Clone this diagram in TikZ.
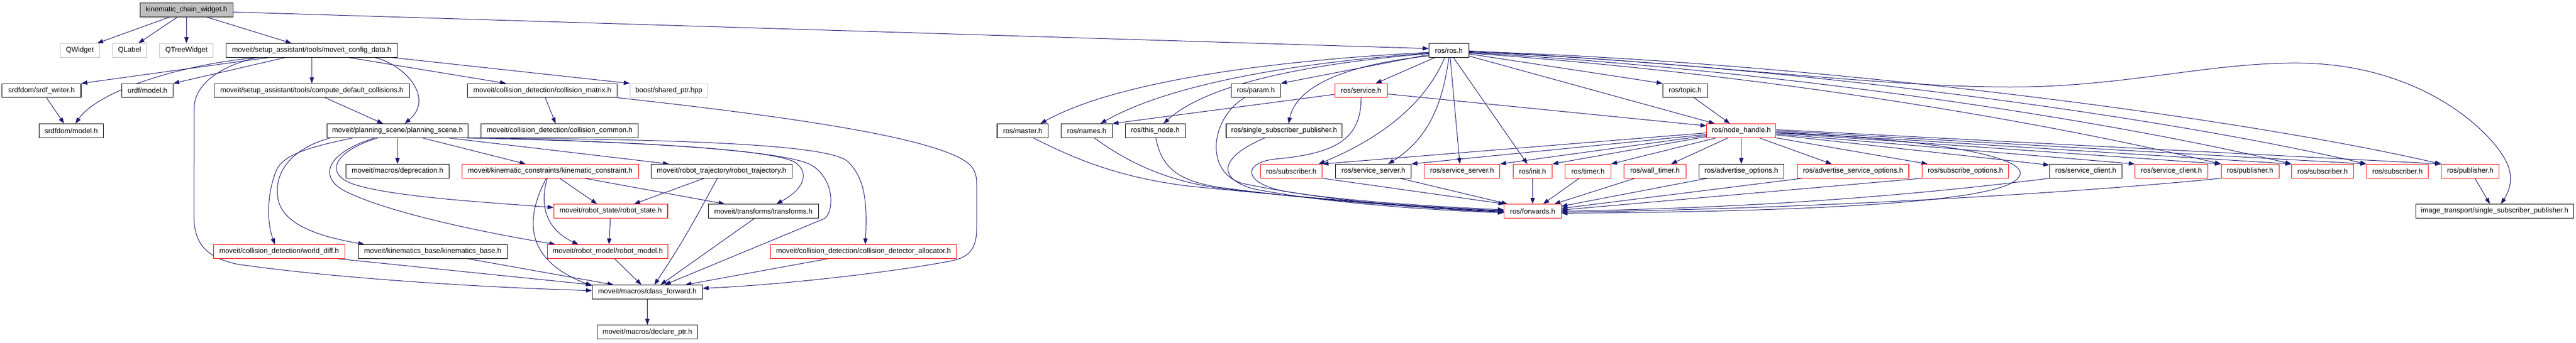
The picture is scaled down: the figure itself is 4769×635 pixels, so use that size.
\documentclass[tikz,border=0pt]{standalone}
\usepackage{fontspec}
\setmainfont{Liberation Sans}
\usetikzlibrary{arrows.meta,calc}
\pgfdeclarelayer{bg}
\pgfsetlayers{bg,main}
\definecolor{edgec}{HTML}{191970}
\definecolor{grey75}{HTML}{BFBFBF}
\newcommand{\nfont}{\fontsize{13.2}{15}\selectfont}
\tikzset{
 nb/.style={draw=black, fill=white, line width=1.1pt, minimum height=25.5pt, inner sep=0pt, font=\nfont, text=black},
 rb/.style={nb, draw=red},
 gb/.style={nb, draw=grey75},
 conn/.style={draw=edgec, line width=1pt, -{Triangle[length=11pt,width=8pt]}}
}
\begin{document}
\begin{tikzpicture}[x=1pt,y=-1pt]
\useasboundingbox (0,0) rectangle (4769,635);
% ---- moveit part ----
\node[nb, fill=grey75, minimum width=172.3pt] (kcw) at (345.2,18.4) {kinematic\_chain\_widget.h};
\node[gb, minimum width=73.5pt] (qwidget) at (147.8,93.4) {QWidget};
\node[gb, minimum width=62.7pt] (qlabel) at (240.0,93.4) {QLabel};
\node[gb, minimum width=98.8pt] (qtree) at (345.2,93.4) {QTreeWidget};
\node[nb, minimum width=317.6pt] (cfg) at (577.1,93.4) {moveit/setup\_assistant/tools/moveit\_config\_data.h};
\node[nb, minimum width=146.2pt] (srdfw) at (76.9,167.9) {srdfdom/srdf\_writer.h};
\node[nb, minimum width=94.5pt] (urdf) at (273.1,167.9) {urdf/model.h};
\node[nb, minimum width=361.6pt] (cdc) at (577.3,167.9) {moveit/setup\_assistant/tools/compute\_default\_collisions.h};
\node[nb, minimum width=277.5pt] (cmat) at (1004.0,167.9) {moveit/collision\_detection/collision\_matrix.h};
\node[gb, minimum width=143.8pt] (boost) at (1238.3,167.9) {boost/shared\_ptr.hpp};
\node[nb, minimum width=119.1pt] (srdfm) at (131.9,242.4) {srdfdom/model.h};
\node[nb, minimum width=260.3pt] (pscene) at (735.9,242.4) {moveit/planning\_scene/planning\_scene.h};
\node[nb, minimum width=290.4pt] (ccommon) at (1036.1,242.4) {moveit/collision\_detection/collision\_common.h};
\node[nb, minimum width=190.6pt] (depr) at (735.9,317.3) {moveit/macros/deprecation.h};
\node[rb, minimum width=326.8pt] (kcon) at (1018.7,317.3) {moveit/kinematic\_constraints/kinematic\_constraint.h};
\node[nb, minimum width=260.3pt] (rtraj) at (1335.9,317.3) {moveit/robot\_trajectory/robot\_trajectory.h};
\node[rb, minimum width=210.8pt] (rstate) at (1130.6,391.4) {moveit/robot\_state/robot\_state.h};
\node[nb, minimum width=204.3pt] (transf) at (1413.2,391.4) {moveit/transforms/transforms.h};
\node[rb, minimum width=243.0pt] (wdiff) at (516.8,466.4) {moveit/collision\_detection/world\_diff.h};
\node[nb, minimum width=276.0pt] (kbase) at (801.1,466.4) {moveit/kinematics\_base/kinematics\_base.h};
\node[rb, minimum width=223.0pt] (rmodel) at (1125.2,466.4) {moveit/robot\_model/robot\_model.h};
\node[rb, minimum width=344.0pt] (cdalloc) at (1598.6,466.4) {moveit/collision\_detection/collision\_detector\_allocator.h};
\node[nb, minimum width=203.9pt] (cfwd) at (1198.4,541.3) {moveit/macros/class\_forward.h};
\node[nb, minimum width=186.6pt] (dptr) at (1198.5,615.6) {moveit/macros/declare\_ptr.h};
% ---- ros part ----
\node[nb, minimum width=73.9pt] (ros) at (2682.3,93.4) {ros/ros.h};
\node[nb, minimum width=91.1pt] (param) at (2325.1,167.9) {ros/param.h};
\node[rb, minimum width=97.2pt] (service) at (2519.8,167.9) {ros/service.h};
\node[nb, minimum width=82.6pt] (topic) at (3119.8,167.9) {ros/topic.h};
\node[nb, minimum width=94.9pt] (master) at (1893.4,242.4) {ros/master.h};
\node[nb, minimum width=94.5pt] (names) at (2011.9,242.4) {ros/names.h};
\node[nb, minimum width=111.0pt] (thisnode) at (2138.7,242.4) {ros/this\_node.h};
\node[nb, minimum width=214.6pt] (ssp) at (2377.3,242.4) {ros/single\_subscriber\_publisher.h};
\node[rb, minimum width=128.2pt] (nh) at (3223.7,242.4) {ros/node\_handle.h};
\node[rb, minimum width=114.7pt] (sub0) at (2390.5,317.3) {ros/subscriber.h};
\node[nb, minimum width=139.7pt] (ssb) at (2542.6,317.3) {ros/service\_server.h};
\node[rb, minimum width=140.1pt] (ssr) at (2706.6,317.3) {ros/service\_server.h};
\node[rb, minimum width=72.3pt] (init) at (2837.3,317.3) {ros/init.h};
\node[rb, minimum width=84.6pt] (timer) at (2939.8,317.3) {ros/timer.h};
\node[rb, minimum width=114.8pt] (wtimer) at (3063.9,317.3) {ros/wall\_timer.h};
\node[nb, minimum width=157.3pt] (advopt) at (3223.7,317.3) {ros/advertise\_options.h};
\node[rb, minimum width=206.7pt] (advsrv) at (3430.6,317.3) {ros/advertise\_service\_options.h};
\node[rb, minimum width=159.9pt] (subopt) at (3638.7,317.3) {ros/subscribe\_options.h};
\node[nb, minimum width=134.0pt] (scb) at (3861.4,317.3) {ros/service\_client.h};
\node[rb, minimum width=134.7pt] (scr) at (4019.9,317.3) {ros/service\_client.h};
\node[rb, minimum width=107.0pt] (pub1) at (4165.5,317.3) {ros/publisher.h};
\node[rb, minimum width=114.6pt] (sub1) at (4299.9,317.3) {ros/subscriber.h};
\node[rb, minimum width=114.7pt] (sub2) at (4438.5,317.3) {ros/subscriber.h};
\node[rb, minimum width=107.0pt] (pub2) at (4573.2,317.3) {ros/publisher.h};
\node[rb, minimum width=105.6pt] (fwd) at (2837.4,391.4) {ros/forwards.h};
\node[nb, minimum width=291.2pt] (itssp) at (4618.4,391.4) {image\_transport/single\_subscriber\_publisher.h};

\begin{pgfonlayer}{bg}
% kcw
\draw[conn] ($(kcw.south)+(-31.4,0)$) -- ($(qwidget.north)+(32.2,0)$);
\draw[conn] ($(kcw.south)+(-16.8,0)$) -- ($(qlabel.north)+(16.4,0)$);
\draw[conn] (kcw.south) -- (qtree.north);
\draw[conn] ($(kcw.south)+(37.5,0)$) -- ($(cfg.north)+(-37.5,0)$);
\draw[conn] ($(kcw.east)+(0,3.9)$) -- ($(ros.west)+(0,-3.4)$);
% cfg
\draw[conn] ($(cfg.south)+(-79.6,0)$) -- (srdfw.north east);
\draw[conn] ($(cfg.south)+(-100.6,0)$) .. controls (330,120) and (180,170) .. ($(srdfm.north)+(7.8,0)$);
\draw[conn] ($(cfg.south)+(-49,0)$) -- (urdf.north east);
\draw[conn] (cfg.south) -- (cdc.north);
\draw[conn] ($(cfg.south)+(116.7,0)$) .. controls (750,120) and (805,182) .. ($(pscene.north)+(13.4,0)$);
\draw[conn] ($(cfg.south)+(68.8,0)$) -- ($(cmat.north)+(-67.2,0)$);
\draw[conn] ($(cfg.south)+(149.2,0)$) -- (boost.north west);
\draw[conn] ($(cfg.south)+(-102.6,0)$) .. controls (400,125) and (360,160) .. (359.5,200) -- (359,400) .. controls (359,455) and (385,478) .. (440,490) .. controls (650,520) and (950,535) .. ($(cfwd.west)+(0,-2.6)$);
\draw[conn] ($(srdfw.south)+(9.2,0)$) -- ($(srdfm.north)+(-13.3,0)$);
\draw[conn] ($(cdc.south)+(24.6,0)$) -- ($(pscene.north)+(-26.8,0)$);
\draw[conn] ($(cmat.south)+(5.5,0)$) -- ($(ccommon.north)+(-7.5,0)$);
\draw[conn] (cmat.south east) .. controls (1450,215) and (1740,255) .. (1795,305) .. controls (1808,318) and (1808,330) .. (1808,345) -- (1808,425) .. controls (1808,465) and (1790,478) .. (1760,484) .. controls (1650,505) and (1450,528) .. ($(cfwd.east)+(0,-6.7)$);
% planning scene
\draw[conn] (pscene.south) -- (depr.north);
\draw[conn] ($(pscene.south)+(45.9,0)$) -- ($(kcon.north)+(-45.6,0)$);
\draw[conn] ($(pscene.south)+(93.7,0)$) -- ($(rtraj.north)+(-97.6,0)$);
\draw[conn] ($(pscene.south)+(-36.4,0)$) .. controls (620,280) and (600,320) .. (650,340) .. controls (720,365) and (900,375) .. ($(rstate.west)+(0,-6.6)$);
\draw[conn] ($(pscene.south)+(-42.1,0)$) .. controls (600,285) and (590,330) .. (640,355) .. controls (720,395) and (900,432) .. ($(rmodel.north west)+(15,0)$);
\draw[conn] ($(pscene.south)+(-82.3,0)$) .. controls (560,275) and (520,290) .. (510,320) .. controls (495,360) and (493,410) .. ($(wdiff.north)+(-7.8,0)$);
\draw[conn] ($(pscene.south)+(-123.9,0)$) .. controls (540,275) and (505,320) .. (515,370) .. controls (525,420) and (600,440) .. ($(kbase.north)+(-126.5,0)$);
\draw[conn] ($(pscene.south east)+(-4,0)$) .. controls (1150,262) and (1420,275) .. (1470,300) .. controls (1500,318) and (1490,350) .. ($(transf.north)+(24.1,0)$);
\draw[conn] ($(pscene.south east)+(-2,0)$) .. controls (1200,262) and (1450,280) .. (1500,305) .. controls (1545,330) and (1545,390) .. (1527,405) -- ($(cfwd.north)+(32.2,0)$);
\draw[conn] (pscene.south east) .. controls (1300,258) and (1540,270) .. (1570,300) .. controls (1600,330) and (1606,370) .. ($(cdalloc.north)+(3.2,0)$);
% kinematic constraint etc.
\draw[conn] ($(kcon.south)+(17.6,0)$) -- ($(rstate.north)+(-25.4,0)$);
\draw[conn] ($(kcon.south)+(-5.4,0)$) .. controls (995,390) and (1020,430) .. ($(rmodel.north)+(-54.5,0)$);
\draw[conn] ($(kcon.south)+(-7.3,0)$) .. controls (975,400) and (965,480) .. ($(cfwd.north west)+(0,2)$);
\draw[conn] ($(kcon.south)+(63.5,0)$) -- ($(transf.north)+(-71.6,0)$);
\draw[conn] ($(rtraj.south)+(-32.6,0)$) -- ($(rstate.north)+(43.4,0)$);
\draw[conn] ($(rtraj.south)+(-7.7,0)$) .. controls (1290,400) and (1270,440) .. ($(cfwd.north)+(13.1,0)$);
\draw[conn] ($(rstate.south)+(-0.6,0)$) -- ($(rmodel.north)+(2.2,0)$);
\draw[conn] ($(rmodel.south)+(12.5,0)$) -- ($(cfwd.north)+(-11,0)$);
\draw[conn] ($(transf.south)+(-16.1,0)$) -- ($(cfwd.north)+(24.6,0)$);
\draw[conn] ($(cdalloc.south)+(-65.6,0)$) -- ($(cfwd.north)+(70.5,0)$);
\draw[conn] ($(wdiff.south)+(108.1,0)$) -- (cfwd.north west);
\draw[conn] ($(kbase.south)+(64.9,0)$) -- ($(cfwd.north)+(-62.6,0)$);
\draw[conn] (cfwd.south) -- (dptr.north);
% ros.h
\draw[conn] ($(ros.west)+(0,3.8)$) .. controls (2300,115) and (2050,160) .. ($(master.north)+(32.9,0)$);
\draw[conn] ($(ros.west)+(0,5)$) .. controls (2350,120) and (2150,165) .. ($(names.north)+(25.4,0)$);
\draw[conn] ($(ros.west)+(0,6)$) .. controls (2400,120) and (2230,160) .. ($(thisnode.north)+(15.3,0)$);
\draw[conn] ($(ros.west)+(0,8)$) -- (param.north east);
\draw[conn] ($(ros.south west)+(0,-3)$) .. controls (2490,120) and (2400,160) .. ($(ssp.north)+(8.2,0)$);
\draw[conn] ($(ros.south)+(-25.7,0)$) -- ($(service.north)+(27.1,0)$);
\draw[conn] ($(ros.south)+(-7.8,0)$) .. controls (2640,190) and (2560,255) .. ($(sub0.north)+(50.8,0)$);
\draw[conn] (ros.south) .. controls (2670,200) and (2640,260) .. ($(ssb.north)+(27.3,0)$);
\draw[conn] ($(ros.south)+(2.4,0)$) -- ($(ssr.north)+(-4,0)$);
\draw[conn] ($(ros.south)+(8.5,0)$) -- ($(init.north)+(-9.7,0)$);
\draw[conn] ($(ros.south east)+(0,-2.8)$) -- ($(nh.north)+(-49.2,0)$);
\draw[conn] ($(ros.east)+(0,6.6)$) -- (topic.north west);
\draw[conn] ($(ros.east)+(0,5)$) .. controls (3300,140) and (3800,230) .. (pub1.north west);
\draw[conn] ($(ros.east)+(0,4)$) .. controls (3300,130) and (3900,222) .. (sub1.north west);
\draw[conn] ($(ros.east)+(0,3)$) .. controls (3300,120) and (4000,215) .. (sub2.north west);
\draw[conn] ($(ros.east)+(0,2)$) .. controls (3300,112) and (4100,208) .. (pub2.north west);
\draw[conn] ($(ros.east)+(0,1)$) .. controls (3200,120) and (3500,165) .. (3753,161) .. controls (3950,157) and (4100,115) .. (4260,117) .. controls (4480,120) and (4610,240) .. (4640,300) .. controls (4655,330) and (4645,355) .. ($(itssp.north)+(11.6,0)$);
\draw[conn] ($(topic.south)+(16.4,0)$) -- ($(nh.north)+(-21.1,0)$);
\draw[conn] ($(service.east)+(0,6.4)$) -- ($(nh.west)+(0,-9.1)$);
\draw[conn] ($(service.west)+(0,7.1)$) -- (names.north east);
\draw[conn] (service.south) .. controls (2520,260) and (2470,285) .. (2360,295) .. controls (2300,302) and (2300,340) .. (2380,355) .. controls (2500,375) and (2700,385) .. ($(fwd.west)+(0,-2.4)$);
% into forwards.h
\draw[conn] ($(master.south)+(19.5,0)$) .. controls (2000,300) and (2080,330) .. (2200,345) .. controls (2450,370) and (2650,385) .. ($(fwd.west)+(0,-1)$);
\draw[conn] ($(names.south)+(13.9,0)$) .. controls (2100,310) and (2170,335) .. (2250,348) .. controls (2450,372) and (2650,386) .. (fwd.west);
\draw[conn] ($(thisnode.south)+(1.1,0)$) .. controls (2150,310) and (2180,338) .. (2270,349) .. controls (2450,373) and (2650,387) .. ($(fwd.west)+(0,1)$);
\draw[conn] ($(param.south)+(-21.1,0)$) .. controls (2240,220) and (2230,320) .. (2300,340) .. controls (2450,372) and (2650,388) .. ($(fwd.west)+(0,2)$);
\draw[conn] ($(ssp.south)+(-35.5,0)$) .. controls (2260,290) and (2250,330) .. (2320,350) .. controls (2450,376) and (2650,390) .. ($(fwd.west)+(0,3)$);
\draw[conn] (sub0.south east) -- ($(fwd.north west)+(1,0)$);
\draw[conn] ($(ssb.south)+(49.2,0)$) -- ($(fwd.north)+(-46.6,0)$);
\draw[conn] (init.south) -- (fwd.north);
\draw[conn] ($(timer.south)+(-16.3,0)$) -- ($(fwd.north)+(19.6,0)$);
\draw[conn] ($(wtimer.south)+(-37.1,0)$) -- ($(fwd.north)+(40.2,0)$);
\draw[conn] ($(advopt.south)+(-63,0)$) -- ($(fwd.east)+(0,-9)$);
\draw[conn] ($(advsrv.south west)+(10,0)$) -- ($(fwd.east)+(0,-5)$);
\draw[conn] (subopt.south west) -- ($(fwd.east)+(0,-2)$);
\draw[conn] (scb.south west) .. controls (3600,355) and (3300,385) .. (fwd.east);
\draw[conn] (pub1.south west) .. controls (3800,362) and (3300,388) .. ($(fwd.east)+(0,2)$);
\draw[conn] ($(nh.east)+(0,4)$) .. controls (3600,258) and (3770,295) .. (3736,330) .. controls (3705,372) and (3400,392) .. ($(fwd.east)+(0,4)$);
% node_handle.h
\draw[conn] ($(nh.west)+(0,4)$) -- (sub0.north east);
\draw[conn] ($(nh.west)+(0,7)$) -- (ssb.north east);
\draw[conn] ($(nh.west)+(0,9)$) -- (ssr.north east);
\draw[conn] ($(nh.west)+(0,11)$) -- (init.north east);
\draw[conn] ($(nh.south)+(-46.7,0)$) -- (timer.north east);
\draw[conn] ($(nh.south)+(-24.7,0)$) -- ($(wtimer.north)+(30,0)$);
\draw[conn] (nh.south) -- (advopt.north);
\draw[conn] ($(nh.south)+(33.3,0)$) -- ($(advsrv.north)+(-39.6,0)$);
\draw[conn] (nh.south east) -- ($(subopt.north)+(-70.3,0)$);
\draw[conn] ($(nh.east)+(0,7.6)$) -- ($(scb.north west)+(0,2)$);
\draw[conn] ($(nh.east)+(0,6)$) -- (scr.north west);
\draw[conn] ($(nh.east)+(0,4)$) -- (pub1.north west);
\draw[conn] ($(nh.east)+(0,2)$) -- (sub1.north west);
\draw[conn] (nh.east) -- (sub2.north west);
\draw[conn] ($(nh.east)+(0,-2)$) -- (pub2.north west);
\draw[conn] ($(pub2.south)+(8.6,0)$) -- ($(itssp.north)+(-8.9,0)$);
\end{pgfonlayer}
\end{tikzpicture}
\end{document}
